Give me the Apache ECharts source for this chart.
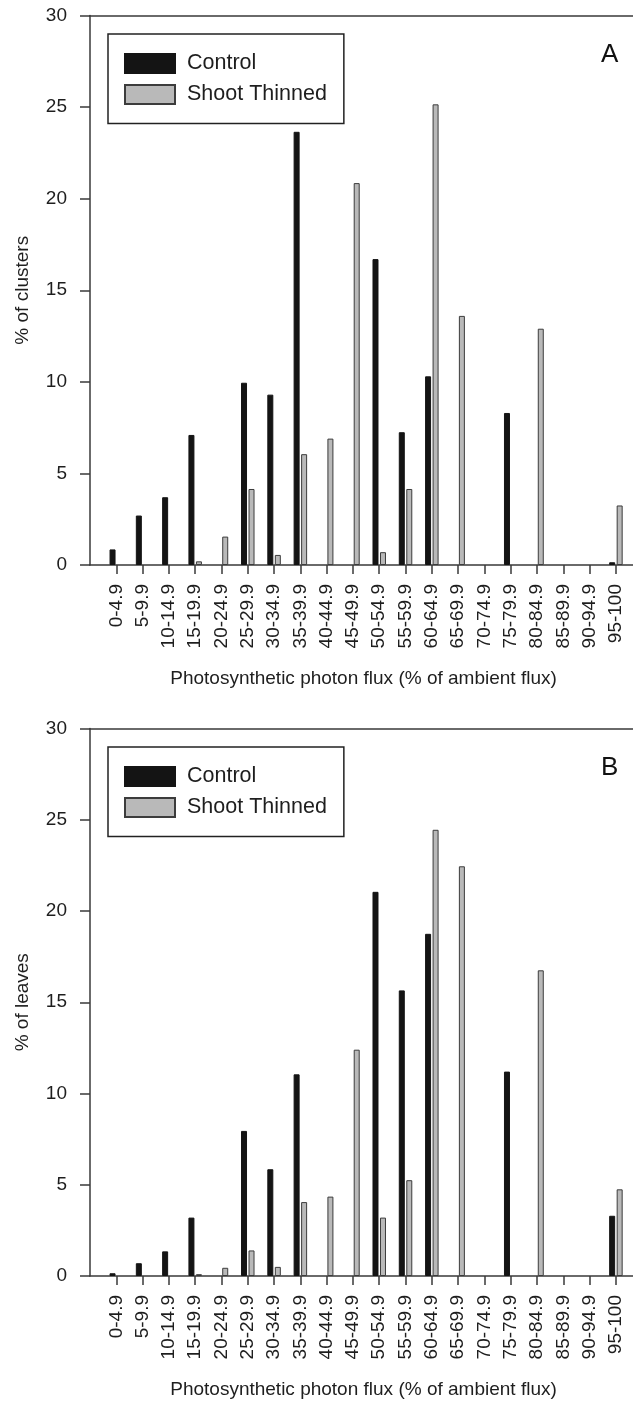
<!DOCTYPE html>
<html>
<head>
<meta charset="utf-8">
<script src="https://cdn.jsdelivr.net/npm/echarts@6/dist/echarts.min.js"></script>
<style>
html,body{margin:0;padding:0;background:#fff;}
#chart{width:633px;height:1403px;}
</style>
</head>
<body>
<div id="chart"></div>
<script>
const categories = ['0-4.9','5-9.9','10-14.9','15-19.9','20-24.9','25-29.9','30-34.9','35-39.9','40-44.9','45-49.9','50-54.9','55-59.9','60-64.9','65-69.9','70-74.9','75-79.9','80-84.9','85-89.9','90-94.9','95-100'];
const clustersControl = [0.85, 2.7, 3.7, 7.1, 0, 9.95, 9.3, 23.65, 0, 0, 16.7, 7.25, 10.3, 0, 0, 8.3, 0, 0, 0, 0.15];
const clustersThinned = [0, 0, 0, 0.2, 1.55, 4.15, 0.55, 6.05, 6.9, 20.85, 0.7, 4.15, 25.15, 13.6, 0, 0, 12.9, 0, 0, 3.25];
const leavesControl = [0.15, 0.7, 1.35, 3.2, 0, 7.95, 5.85, 11.05, 0, 0, 21.05, 15.65, 18.75, 0, 0, 11.2, 0, 0, 0, 3.3];
const leavesThinned = [0, 0, 0, 0.1, 0.45, 1.4, 0.5, 4.05, 4.35, 12.4, 3.2, 5.25, 24.45, 22.45, 0, 0, 16.75, 0, 0, 4.75];
const yTicks = [0, 5, 10, 15, 20, 25, 30];
const xTitle = 'Photosynthetic photon flux (% of ambient flux)';
const yTitleA = '% of clusters';
const yTitleB = '% of leaves';
const seriesNames = ['Control', 'Shoot Thinned'];
const panelLetters = ['A', 'B'];

const FONT = '"Liberation Sans", Arial, Helvetica, sans-serif';
const TXT = '#1e1e1e';
const AX = '#3a3a3a';
const idx = categories.map((c, i) => i);

function toData(arr) {
  const out = [];
  arr.forEach((v, i) => { if (v > 0) out.push([i, v]); });
  return out;
}

const grids = [
  {left: 90, right: 0, top: 15.5, height: 549.5},
  {left: 90, right: 0, top: 728.5, height: 547.5}
];

function bottomX(gi) {
  return {
    type: 'value', gridIndex: gi, min: -1, max: 19.65, position: 'bottom',
    splitLine: {show: false},
    axisLine: {show: true, onZero: false, lineStyle: {color: AX, width: 1.5}},
    axisTick: {show: true, customValues: idx, length: 9, lineStyle: {color: AX, width: 1.5}},
    axisLabel: {show: true, customValues: idx, rotate: 90, margin: 19, fontSize: 19, color: TXT, fontFamily: FONT,
      formatter: v => categories[Math.round(v)] || ''},
    name: xTitle, nameLocation: 'middle', nameGap: 104,
    nameTextStyle: {fontSize: 19, color: TXT, fontFamily: FONT, padding: [0, 0, 0, 4]}
  };
}
function topX(gi) {
  return {
    type: 'value', gridIndex: gi, min: -1, max: 19.65, position: 'top',
    splitLine: {show: false},
    axisLine: {show: true, onZero: false, lineStyle: {color: AX, width: 1.5}},
    axisTick: {show: false}, axisLabel: {show: false}
  };
}
function leftY(gi, title) {
  return {
    type: 'value', gridIndex: gi, min: 0, max: 30, interval: 5, position: 'left',
    splitLine: {show: false},
    axisLine: {show: true, onZero: false, lineStyle: {color: AX, width: 1.5}},
    axisTick: {show: true, length: 10, lineStyle: {color: AX, width: 1.5}},
    axisLabel: {margin: 23, fontSize: 19, color: TXT, fontFamily: FONT,
      formatter: v => yTicks.indexOf(v) >= 0 ? String(v) : ''},
    name: title, nameLocation: 'middle', nameGap: 58,
    nameTextStyle: {fontSize: 19, color: TXT, fontFamily: FONT}
  };
}

const controlStyle = {color: '#141414', borderColor: '#141414', borderWidth: 1};
const thinnedStyle = {color: '#b9b9b9', borderColor: '#3c3c3c', borderWidth: 1};

function bars(gi, name, arr, style) {
  return {
    type: 'bar', name: name, xAxisIndex: gi * 2, yAxisIndex: gi,
    data: toData(arr), barWidth: 6, barGap: '25%',
    itemStyle: style, emphasis: {disabled: true}, animation: false
  };
}

function legend(gi) {
  return {
    orient: 'vertical', left: 108, top: grids[gi].top + 18.5,
    data: seriesNames.map(n => ({name: n, icon: 'rect'})),
    itemWidth: 50, itemHeight: 19, itemGap: 9,
    padding: [18.5, 17, 18, 16],
    borderColor: '#222', borderWidth: 1.5,
    textStyle: {fontSize: 21.5, color: TXT, fontFamily: FONT, padding: [0, 0, 0, 7]},
    selectedMode: false
  };
}

const chart = echarts.init(document.getElementById('chart'), null, {renderer: 'canvas'});
chart.setOption({
  backgroundColor: '#fff',
  animation: false,
  grid: grids,
  title: panelLetters.map((t, gi) => ({
    text: t, left: 596, top: grids[gi].top + 21,
    textStyle: {fontSize: 26, fontWeight: 'normal', color: '#111', fontFamily: FONT}
  })),
  legend: [legend(0), legend(1)],
  xAxis: [bottomX(0), topX(0), bottomX(1), topX(1)],
  yAxis: [leftY(0, yTitleA), leftY(1, yTitleB)],
  series: [
    bars(0, seriesNames[0], clustersControl, controlStyle),
    bars(0, seriesNames[1], clustersThinned, thinnedStyle),
    bars(1, seriesNames[0], leavesControl, controlStyle),
    bars(1, seriesNames[1], leavesThinned, thinnedStyle)
  ]
});
</script>
</body>
</html>
